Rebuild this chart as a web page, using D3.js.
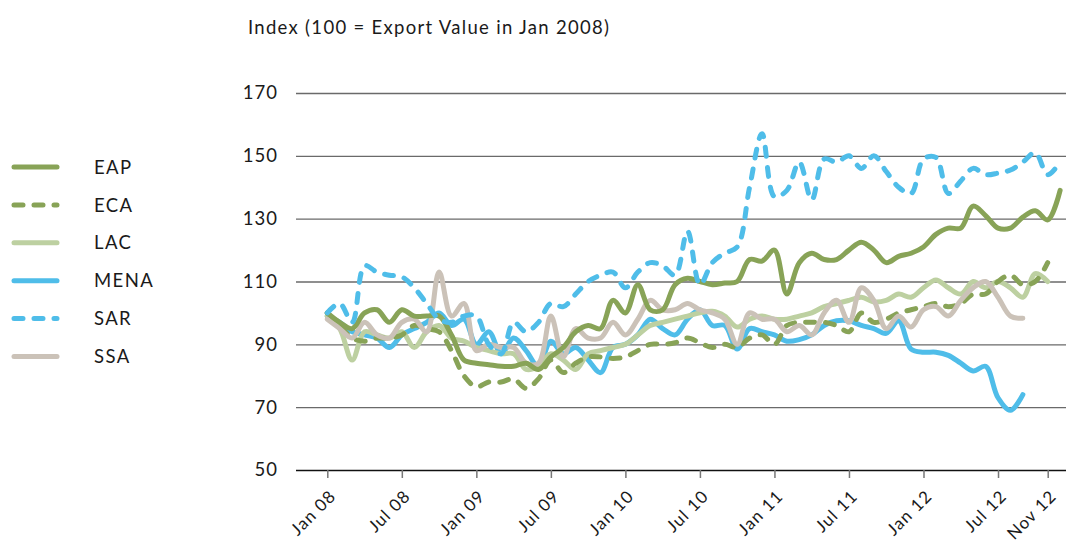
<!DOCTYPE html>
<html>
<head>
<meta charset="utf-8">
<script src="https://cdn.jsdelivr.net/npm/d3@7"></script>
<style>
  html, body { margin: 0; padding: 0; background: #fff; }
  svg text { font-family: "Lato", "Noto Sans", sans-serif; fill: #1a1a1a; }
</style>
</head>
<body>
<div id="chart"></div>
<script>
// ---- Data (monthly, Jan 2008 = index 0) ----
const tickIndex = [0, 6, 12, 18, 24, 30, 36, 42, 48, 54, 58];
const tickLabels = ["Jan 08", "Jul 08", "Jan 09", "Jul 09", "Jan 10", "Jul 10", "Jan 11", "Jul 11", "Jan 12", "Jul 12", "Nov 12"];
const yTicks = [50, 70, 90, 110, 130, 150, 170];
const seriesNames = ["EAP", "ECA", "LAC", "MENA", "SAR", "SSA"];

const EAP = [100, 97, 95, 100, 101, 97, 101, 99, 99, 99, 93, 85, 84, 83.5, 83, 83, 84, 82, 86, 89, 94, 96, 95, 104, 100, 109, 101, 101, 109, 111, 110, 109, 109.5, 110, 117, 116.5, 120, 106, 116, 119, 117, 117, 120, 122.5, 120, 116, 118, 119, 121, 125, 127, 127, 134, 131, 127, 127, 130.5, 132.5, 129.6, 139];
const ECA = [100, 96, 92, 91, 92, 92, 93, 96, 95, 94, 88, 80, 76.5, 78, 78, 79, 76, 79, 85, 81, 84, 86, 86, 85.5, 86, 88, 90, 90, 90.5, 92, 90.5, 89, 90, 89, 92, 93, 90, 96, 97, 97, 97, 96, 94, 100, 97, 98, 100, 101, 102, 103, 102, 103, 106, 106, 110, 112, 109, 110, 116];
const LAC = [99, 95, 85, 94, 93, 92, 94, 89, 94, 96, 92, 91, 89, 88, 87, 87, 82, 83, 87, 85, 82, 87, 88, 89, 90, 93, 96, 97, 98, 99, 100, 100.5, 99, 95.5, 98, 99, 98, 98, 99, 100, 102, 103, 104, 105, 103.5, 104, 106, 105, 108, 110.5, 108, 106, 110, 108, 110, 108, 105, 112.5, 110];
const MENA = [99, 97, 94, 93, 92, 89, 93, 95, 97, 100, 96, 98, 90, 94, 87, 92, 88, 83, 91, 87, 89, 85, 81, 89, 90, 93, 98, 95, 93, 98, 101, 96, 96, 88.5, 95, 94, 93, 91, 91.5, 93, 96, 97.5, 97.5, 96, 95, 93.5, 97.5, 88.5, 87.5, 87.5, 86.5, 84, 81.5, 83, 73, 69, 74];
const SAR = [100, 103, 97, 115, 113, 112, 111.5, 108, 103, 98, 97, 99, 99, 90, 87, 97, 94, 97, 103, 102, 106, 110, 112, 113, 108, 113, 116, 115, 112, 126, 109, 116, 119, 121, 140, 157, 137, 139, 148, 136, 149, 148, 150, 146, 150, 145, 140, 138, 149, 149.5, 138, 142, 146, 144, 144.5, 145.5, 148, 151, 144, 148];
const SSA = [98, 95, 92, 97, 93, 92, 97, 98, 94, 113, 99, 103, 88, 90, 89, 89, 84, 84, 99, 86, 95, 92, 92, 97, 93, 98, 104, 101, 101, 103, 101, 100, 98, 90, 100, 98, 98, 94, 96, 93, 100, 104, 97, 108, 104, 95, 99, 95.5, 101, 102, 99, 104, 108, 110, 105, 99, 98.3];

const seriesValues = [EAP, ECA, LAC, MENA, SAR, SSA];
const seriesColors = ["#88a357", "#88a357", "#bdd0a1", "#4fbde9", "#4fbde9", "#cbc2b8"];
const seriesDashed = [false, true, false, false, true, false];

// ---- Drawing ----
const W = 1071, H = 545;
const svg = d3.select("#chart").append("svg").attr("width", W).attr("height", H);

const x = d3.scaleLinear().domain([0, 58]).range([327.3, 1047.7]);
const y = d3.scaleLinear().domain([50, 170]).range([470, 93]);
const gridLeft = 296, gridRight = 1066;

// Title
svg.append("text").attr("x", 248).attr("y", 34)
  .style("font-size", "18.5px").style("letter-spacing", "1.3px")
  .text("Index (100 = Export Value in Jan 2008)");

// Y axis with gridlines
const yAxis = svg.append("g").attr("transform", `translate(${gridLeft},0)`)
  .call(d3.axisLeft(y).tickValues(yTicks).tickSize(-(gridRight - gridLeft)).tickPadding(18).tickFormat(d3.format("d")));
yAxis.select(".domain").remove();
yAxis.selectAll(".tick line").attr("stroke", d => d === 50 ? "#111" : "#6a6a6a").attr("stroke-width", d => d === 50 ? 1.6 : 1.3);
yAxis.selectAll(".tick text").style("font-size", "18.5px").style("letter-spacing", "1px").attr("fill", "#1a1a1a");

// X axis
const xAxis = svg.append("g").attr("transform", `translate(0,${y(50)})`)
  .call(d3.axisBottom(x).tickValues(tickIndex).tickSize(8).tickFormat((d, i) => tickLabels[i]));
xAxis.select(".domain").remove();
xAxis.selectAll(".tick line").attr("stroke", "#777").attr("stroke-width", 1.5);
xAxis.selectAll(".tick text")
  .style("font-size", "17px").style("letter-spacing", "1.1px")
  .attr("text-anchor", "end")
  .attr("transform", "translate(5,23) rotate(-45)")
  .attr("x", 0).attr("y", 0).attr("dy", "0.35em");

// Lines
const line = d3.line().x((d, i) => x(i)).y(d => y(d)).curve(d3.curveCatmullRom.alpha(0.5));
const drawOrder = [3, 2, 1, 5, 0, 4];
drawOrder.forEach(k => {
  svg.append("path")
    .datum(seriesValues[k])
    .attr("d", line)
    .attr("fill", "none")
    .attr("stroke", seriesColors[k])
    .attr("stroke-width", 5)
    .attr("stroke-linecap", "round")
    .attr("stroke-linejoin", "round")
    .attr("stroke-dasharray", seriesDashed[k] ? "9,11" : null);
});

// Legend
const legendY = d3.scalePoint().domain(seriesNames).range([167, 356.5]);
const lg = svg.append("g");
seriesNames.forEach((name, k) => {
  const yy = legendY(name);
  lg.append("line").attr("x1", 14).attr("x2", 57).attr("y1", yy).attr("y2", yy)
    .attr("stroke", seriesColors[k]).attr("stroke-width", 5).attr("stroke-linecap", "round")
    .attr("stroke-dasharray", seriesDashed[k] ? "9,11" : null);
  lg.append("text").attr("x", 94).attr("y", yy).attr("dy", "0.36em")
    .style("font-size", "18.5px").style("letter-spacing", "1.4px").text(name);
});
</script>
</body>
</html>
